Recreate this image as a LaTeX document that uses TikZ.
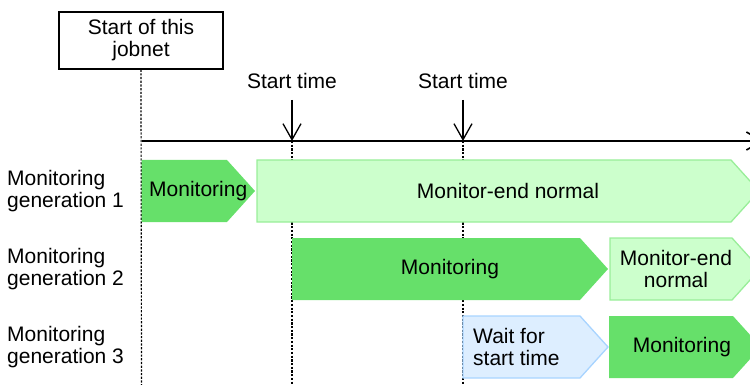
\documentclass[tikz,border=0pt]{standalone}
\usepackage{fontspec}
\setmainfont{Liberation Sans}
\usepackage{tikz}
\usetikzlibrary{arrows.meta,positioning}
\definecolor{gendark}{HTML}{66E06A}
\definecolor{genlight}{HTML}{CCFFCC}
\definecolor{genlightline}{HTML}{99EE99}
\definecolor{genwait}{HTML}{DDEEFF}
\definecolor{genwaitline}{HTML}{A8D4FF}
\tikzset{
  monbar/.style={fill=gendark, draw=none},
  endbar/.style={fill=genlight, draw=genlightline, line width=1.3pt},
  waitbar/.style={fill=genwait, draw=genwaitline, line width=1.3pt},
  barlabel/.style={align=center, inner sep=0pt, font=\fontsize{21}{22}\selectfont},
  genlabel/.style={align=left, anchor=west, inner sep=0pt, font=\fontsize{21}{22}\selectfont},
  timeline/.style={-{Straight Barb[length=16pt,width=18pt]}, line width=1.6pt},
  timearrow/.style={-{Straight Barb[length=16pt,width=18pt]}, line width=1.3pt},
  guideline/.style={line width=1.2pt, dash pattern=on 2.2pt off 1.5pt}
}
% bar with pointed end: name, style, x start, x flat end, y top, text
\newcommand{\genbar}[6]{%
  \draw[#2] (#3,#5) -- (#4,#5) -- (#4+28,#5+31) -- (#4,#5+62) -- (#3,#5+62) -- cycle;
  \node[barlabel] (#1) at ({(#3+#4+28)/2},#5+31) {#6};
}
\begin{document}
\begin{tikzpicture}[x=1pt, y=-1pt]
\useasboundingbox (0,0) rectangle (750,385);
\node[draw, line width=1.2pt, minimum width=164pt, minimum height=57pt, barlabel, inner sep=2pt] (jobstart) at (141,40.5) {Start of this\\jobnet};
\node[barlabel] (start1) at (292,81) {Start time};
\node[barlabel] (start2) at (463,81) {Start time};
\coordinate (axisleft) at (141.5,141);
\coordinate (axisright) at (764,141);
\coordinate (s1top) at (292,100);
\coordinate (s1axis) at (292,141);
\coordinate (s1bot) at (292,385);
\coordinate (s2top) at (463,100);
\coordinate (s2axis) at (463,141);
\coordinate (s2bot) at (463,385);
\coordinate (jobbot) at (141.5,385);
% guides
\draw[guideline] (jobstart.south) -- (jobbot);
\draw[guideline] (s1axis) -- (s1bot);
\draw[guideline] (s2axis) -- (s2bot);
\draw[timeline] (axisleft) -- (axisright);
\draw[timearrow] (s1top) -- (s1axis);
\draw[timearrow] (s2top) -- (s2axis);
% generation labels
\node[genlabel] (gen1) at (7,191) {Monitoring\\generation 1};
\node[genlabel] (gen2) at (7,269) {Monitoring\\generation 2};
\node[genlabel] (gen3) at (7,347) {Monitoring\\generation 3};
% bars
\genbar{g1mon}{monbar}{141.5}{227}{160}{Monitoring}
\genbar{g1end}{endbar}{257}{731}{160}{Monitor-end normal}
\genbar{g2mon}{monbar}{292}{580}{238}{Monitoring}
\draw[endbar] (610,238) -- (732,238) -- (760,269) -- (732,300) -- (610,300) -- cycle;
\node[barlabel] (g2end) at (676,269) {Monitor-end\\normal};
\draw[waitbar] (463,316) -- (580,316) -- (608,347) -- (580,378) -- (463,378) -- cycle;
\node[genlabel] (g3wait) at (473,347) {Wait for\\start time};
\draw[monbar] (609,316) -- (733,316) -- (761,347) -- (733,378) -- (609,378) -- cycle;
\node[barlabel] (g3mon) at (682,347) {Monitoring};
\end{tikzpicture}
\end{document}
